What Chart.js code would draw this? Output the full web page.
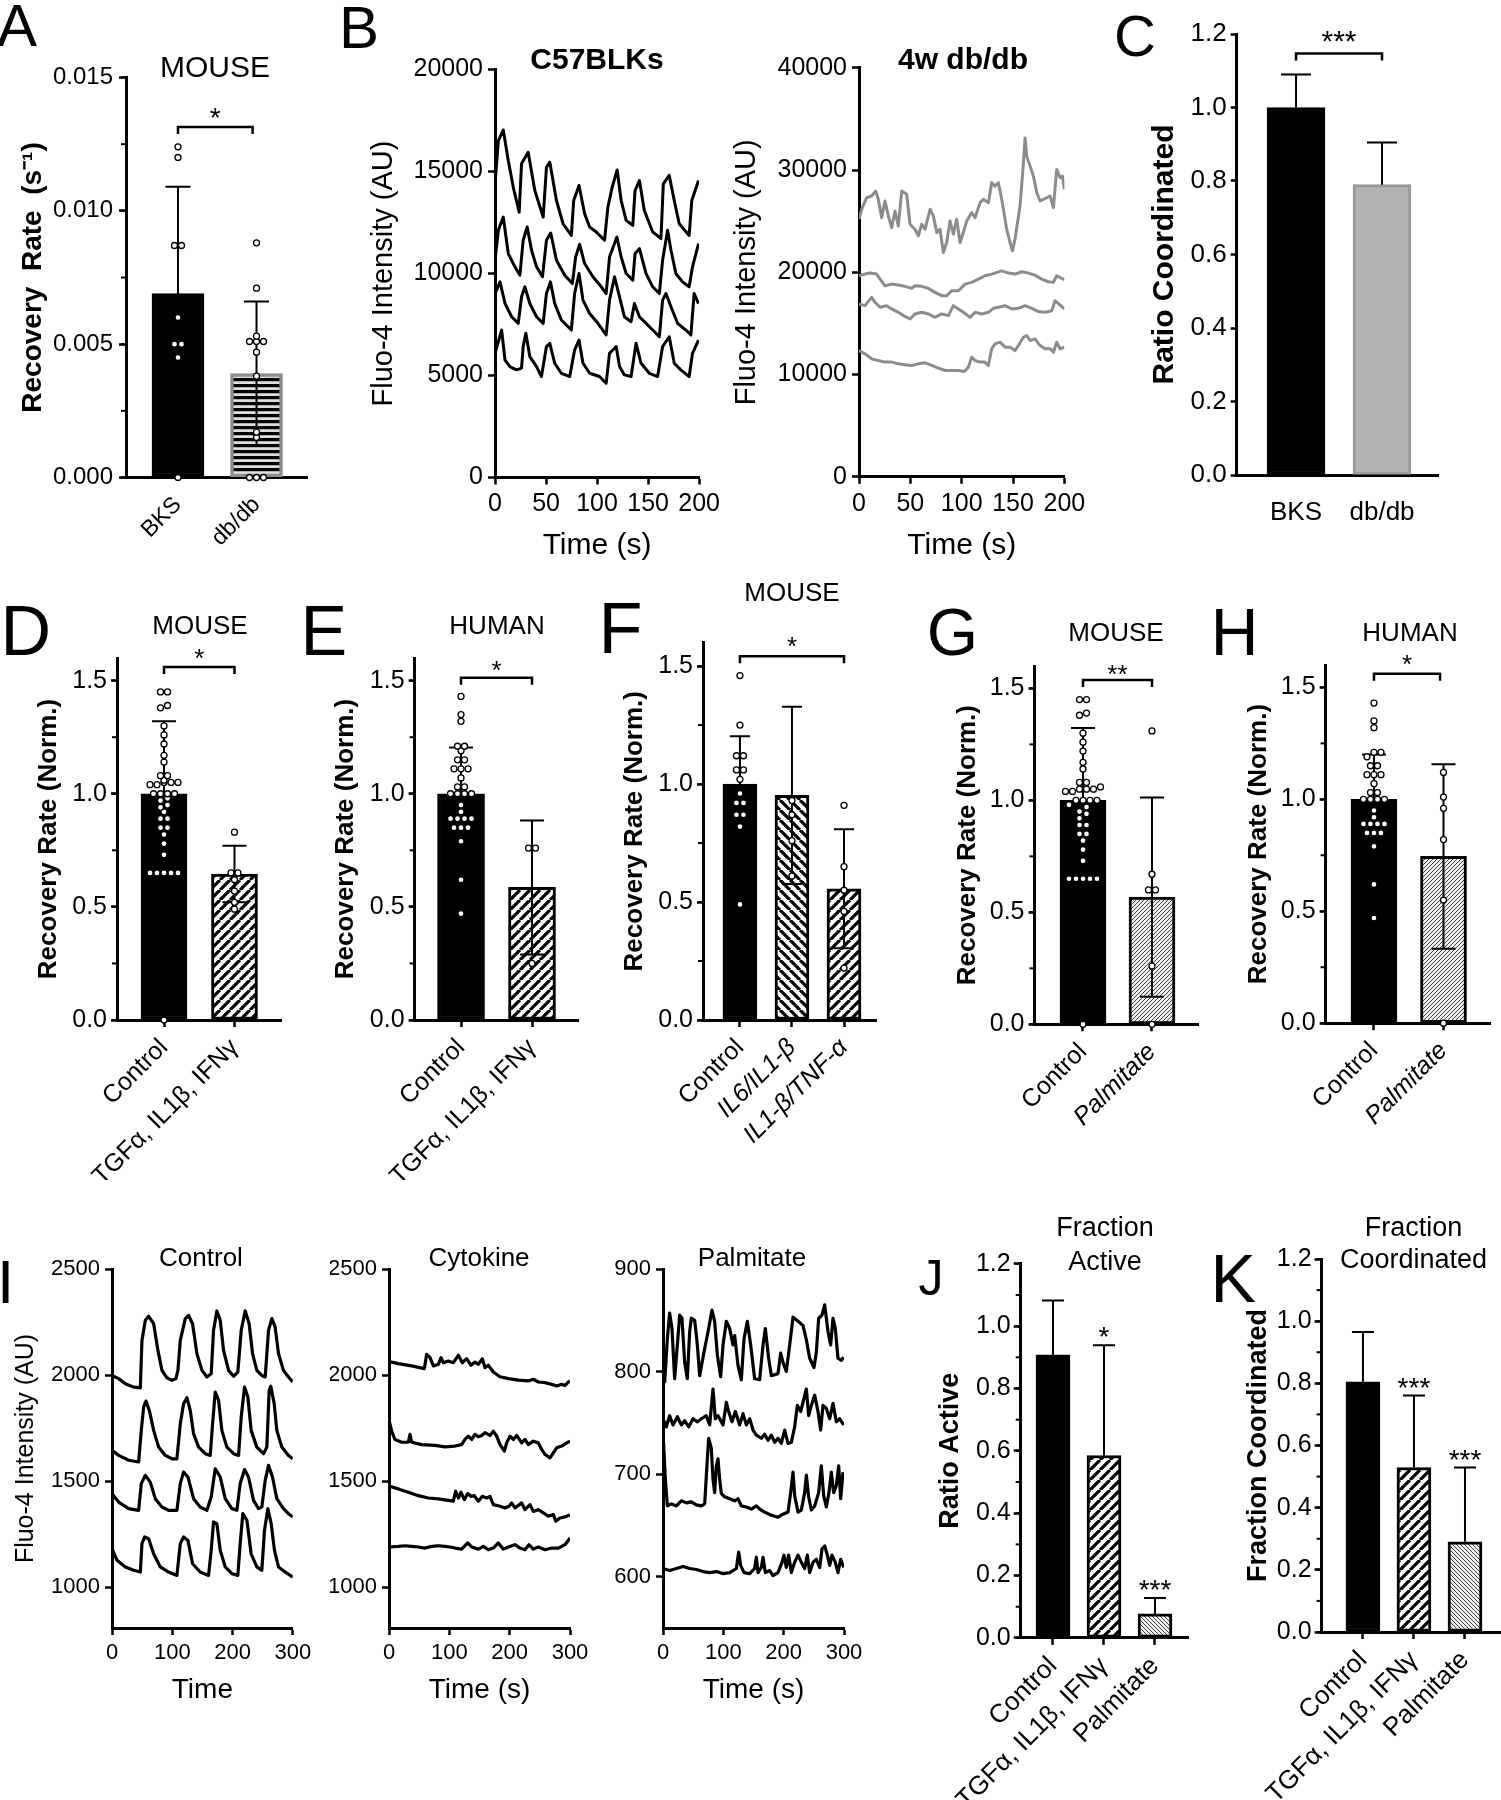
<!DOCTYPE html>
<html>
<head>
<meta charset="utf-8">
<script src="https://cdn.jsdelivr.net/npm/chart.js@4.4.1/dist/chart.umd.min.js"></script>
<style>
body { margin: 0; background: #fff; font-family: "Liberation Sans", Arial, sans-serif; }
#page { position: relative; width: 1501px; height: 1800px; overflow: hidden; background: #fff; }
canvas { position: absolute; }
.lbl { position: absolute; line-height: 1; white-space: nowrap; color: #000; }
</style>
</head>
<body>
<div id="page"></div>
<script>
// ---------------- data ----------------
// A
const aCats = ['BKS', 'db/db'];
const aMean = [0.0069, 0.0039];
const aSd = [0.0040, 0.0027];
const aDotsBks = [0.0124, 0.0120, 0.0087, 0.0087, 0.0060, 0.0050, 0.0050, 0.0045, 0.0];
const aDotsDb = [0.0088, 0.0071, 0.0053, 0.0051, 0.0051, 0.0051, 0.0047, 0.0038, 0.0017, 0.0015, 0, 0, 0];

// B  (time s, intensity AU)
const bWt1 = [[0,14400],[3.3,16500],[8.1,17040],[13,15540],[17.9,14230],[23.7,13010],[26,15380],[32.5,15950],[39,14070],[47.2,12770],[50.4,15210],[53.7,15460],[60.2,13580],[66.7,12440],[74.8,11870],[77.1,13580],[82.3,14320],[87.8,12930],[92.7,12280],[99.2,12040],[107.3,11630],[110.6,13260],[114.8,14230],[119.7,15080],[123.6,13580],[128.5,12610],[135,12360],[137.2,14070],[141.5,14560],[146.3,13090],[154.5,12040],[162.6,11710],[164.9,14400],[170.7,14810],[175.6,13580],[180.5,12440],[190.2,11870],[192.8,13580],[199.4,14560]];
const bWt2 = [[0,10650],[3.3,12120],[8.1,12770],[13,10980],[19.5,10330],[24.4,9920],[27.6,11630],[31.5,12280],[35.8,11140],[40.7,10330],[46.5,9840],[50.4,11630],[54.6,11990],[60.2,10650],[68.3,9920],[75.8,9510],[79,10810],[82.9,11430],[87.8,10490],[95.9,9840],[104.1,9350],[108.9,9020],[112.2,10810],[119.4,11790],[123.6,10810],[128.5,10000],[135,9670],[137.2,10980],[141.5,11220],[148,10000],[154.5,9350],[161,9020],[164.2,10650],[169.1,12120],[172.4,11140],[177.2,10000],[183.7,9590],[190.2,9350],[193.5,10330],[199.4,11470]];
const bWt3 = [[0,9020],[4.9,9590],[9.8,8530],[16.3,7880],[22.8,7560],[26,8860],[29.3,9350],[34.1,8530],[40.7,7880],[47.2,7560],[50.4,9020],[54.3,9590],[58.5,8530],[65,7720],[74.8,7230],[78,9020],[82.3,10000],[86.2,8700],[92.7,8040],[100.8,7560],[108.9,6990],[112.2,8700],[117.1,9840],[122,8860],[126.8,7880],[133.3,7640],[136.6,8530],[141.5,7880],[148,7560],[154.5,7230],[161,6900],[164.2,8700],[167.5,9020],[172.4,8370],[178.9,7560],[187,7230],[191.9,6990],[195.1,9020],[199.4,8530]];
const bWt4 = [[0,6090],[6.5,7230],[9.8,5760],[14.6,5440],[21.1,5280],[26,5360],[27.6,6420],[30.2,7070],[34.1,5930],[40.7,5440],[45.5,4950],[50.4,6420],[53.7,6580],[58.5,5600],[65,5110],[73.2,4950],[78,6250],[82.3,6740],[86.2,5600],[92.7,5110],[102.4,4950],[108.9,4620],[112.2,6090],[118.7,6420],[122,5440],[126.8,5030],[133.3,4950],[138.2,6580],[143.1,5600],[151.2,5110],[159.3,4950],[164.2,6420],[170.7,6900],[175.6,5600],[182.1,5280],[190.2,4950],[193.5,6090],[199.4,6740]];
const bDb1 = [[0,25190],[3.2,26330],[7.5,27300],[12.3,27470],[16.2,27950],[18.8,27140],[22.1,25350],[25.3,26980],[28.6,25520],[31.8,24380],[35.1,26000],[38.3,24540],[41.6,27950],[46.4,27630],[49.7,24700],[54.5,24220],[57.8,23570],[61,24700],[64.3,24220],[69.2,26170],[72.4,25520],[75.7,23890],[78.9,24220],[82.1,21940],[85.4,22920],[88.6,25030],[91.9,23730],[95.1,25190],[98.4,22920],[101.6,23890],[104.9,25030],[109.7,25840],[113,25350],[117.9,26820],[121.1,27140],[126,26820],[129.2,28770],[132.5,28440],[135.7,28770],[139,27140],[143.8,24220],[147.1,22920],[149.4,22100],[151.9,23240],[156.8,26490],[160.1,30720],[161.7,33150],[163.3,31370],[166.6,30390],[169.8,29420],[173.1,27790],[176.3,26980],[179.6,27140],[182.8,27300],[186.1,27470],[189.3,26330],[192.5,30070],[195.8,29250],[198.1,29420],[200,28120]];
const bDb2 = [[0,19670],[5.8,19830],[10.7,19930],[17.2,19830],[20.5,19340],[25.3,18690],[31.8,18850],[38.3,18760],[44.8,18630],[51.3,18430],[54.5,18690],[61,18630],[67.5,18430],[74,18040],[80.5,17720],[85.4,17720],[90.3,18200],[96.8,18200],[103.3,18850],[109.7,19020],[116.2,19340],[122.7,19670],[129.2,19830],[139,20150],[145.5,19930],[152,19830],[158.5,20060],[164.9,19930],[171.4,19730],[177.9,19340],[184.4,19080],[189.3,19020],[192.5,19670],[195.8,19500],[200,19280]];
const bDb3 = [[0,16900],[5.8,16740],[12.3,17550],[15.6,17070],[20.5,16580],[26.9,16740],[31.8,16420],[38.3,16090],[43.2,15770],[49.7,15440],[54.5,15930],[61,16090],[67.5,15930],[74,15600],[80.5,15930],[87,15770],[91.9,16740],[96.8,16420],[101.6,16090],[108.1,15600],[113,16090],[119.5,15930],[126,16090],[130.9,16480],[135.7,16580],[142.2,16740],[148.7,16420],[155.2,16480],[161.7,16740],[168.2,16480],[174.7,16160],[181.2,16090],[187.7,16250],[190.9,17230],[194.8,16900],[200,16420]];
const bDb4 = [[0,12350],[5.8,12030],[12.3,11540],[18.8,11380],[25.3,11220],[31.8,11220],[38.3,11050],[44.8,10960],[51.3,10890],[57.8,11050],[64.3,11150],[70.8,10890],[77.3,10630],[83.8,10400],[90.3,10400],[96.8,10400],[102.6,10310],[106.5,10730],[109.7,11700],[113,11380],[117.9,11220],[122.7,11220],[126,10890],[129.2,12520],[132.5,13000],[137.3,13170],[142.2,12680],[147.1,12680],[152,12350],[155.2,12840],[160.1,13650],[163.3,13820],[166.6,13330],[171.4,13490],[176.3,12840],[181.2,12520],[186.1,12520],[189.3,12190],[192.5,13170],[195.8,12520],[200,12680]];
const bTimeTicks = [0, 50, 100, 150, 200];
const bWtTicks = [0, 5000, 10000, 15000, 20000];
const bDbTicks = [0, 10000, 20000, 30000, 40000];

// C
const cCats = ['BKS', 'db/db'];
const cMean = [1.0, 0.79];
const cSd = [0.09, 0.115];

// D
const dCats = ['Control', 'TGFα, IL1β, IFNγ'];
const dMean = [1.0, 0.645];
const dSd = [0.32, 0.125];
const dDotsCtrl = [1.45,1.45,1.39,1.38,1.30,1.26,1.22,1.17,1.14,1.08,1.08,1.06,1.05,1.05,1.05,1.04,1.04,1.0,1.0,1.0,1.0,0.98,0.97,0.95,0.94,0.92,0.89,0.89,0.85,0.85,0.82,0.78,0.73,0.65,0.65,0.65,0.65,0.65,0.0];
const dDotsTrt = [0.83, 0.65, 0.65, 0.62, 0.57, 0.52, 0.49];

// E
const eCats = ['Control', 'TGFα, IL1β, IFNγ'];
const eMean = [1.0, 0.586];
const eSd = [0.204, 0.296];
const eDotsCtrl = [1.43,1.35,1.32,1.21,1.21,1.19,1.15,1.15,1.11,1.11,1.11,1.07,1.03,1.03,1.0,1.0,1.0,1.0,0.95,0.92,0.89,0.89,0.89,0.89,0.85,0.85,0.85,0.79,0.62,0.47];
const eDotsTrt = [0.76, 0.76, 0.25];

// F
const fCats = ['Control', 'IL6/IL1-β', 'IL1-β/TNF-α'];
const fMean = [1.0, 0.952, 0.556];
const fSd = [0.203, 0.376, 0.252];
const fDotsCtrl = [1.46,1.25,1.12,1.12,1.06,1.06,1.02,0.96,0.92,0.92,0.87,0.87,0.82,0.49];
const fDotsIl6 = [0.93, 0.87, 0.76, 0.61];
const fDotsTnf = [0.91, 0.65, 0.55, 0.46, 0.22];

// G
const gCats = ['Control', 'Palmitate'];
const gMean = [1.0, 0.568];
const gSd = [0.323, 0.445];
const gDotsCtrl = [1.45,1.45,1.39,1.38,1.30,1.26,1.22,1.17,1.14,1.08,1.08,1.06,1.05,1.05,1.05,1.04,1.04,1.0,1.0,1.0,1.0,0.98,0.97,0.95,0.94,0.92,0.89,0.89,0.85,0.85,0.82,0.78,0.73,0.65,0.65,0.65,0.65,0.65,0.0];
const gDotsPalm = [1.31, 0.67, 0.60, 0.60, 0.26, 0.0];

// H
const hCats = ['Control', 'Palmitate'];
const hMean = [1.0, 0.745];
const hSd = [0.20, 0.412];
const hDotsCtrl = [1.43,1.35,1.32,1.21,1.21,1.19,1.15,1.15,1.11,1.11,1.11,1.07,1.03,1.03,1.0,1.0,1.0,1.0,0.95,0.92,0.89,0.89,0.89,0.89,0.85,0.85,0.85,0.79,0.62,0.47];
const hDotsPalm = [1.12, 1.01, 0.96, 0.82, 0.55, 0.0];

// I  (time s, intensity AU)
const iCtl1 = [[0,1998],[11,1983],[22.1,1959],[35.9,1943],[47,1939],[49.7,2163],[55.3,2258],[60.8,2277],[69.1,2242],[76.2,2116],[82.9,2022],[91.2,1987],[99.5,1975],[106.1,1983],[109.4,2022],[113.3,2163],[121.6,2266],[127.1,2281],[133.7,2242],[140.9,2101],[149.2,2022],[157.5,1991],[164.6,2006],[168.5,2211],[174,2302],[179.6,2258],[185.1,2116],[193.4,2022],[201.7,1994],[208.8,2014],[214.4,2211],[221,2302],[227.6,2242],[233.2,2101],[240.3,2022],[248.6,1998],[254.2,1991],[259.7,2211],[265.2,2266],[270.7,2226],[276.3,2101],[284.5,2022],[292.8,1991],[300,1967]];
const iCtl2 = [[0,1645],[11,1621],[27.6,1598],[44.2,1590],[48.6,1739],[52.5,1849],[56.4,1877],[61.9,1833],[69.1,1739],[77.4,1660],[88.4,1621],[99.5,1605],[107.7,1605],[113.3,1770],[118.8,1865],[124.3,1893],[129.8,1833],[135.4,1723],[143.7,1660],[154.7,1629],[163,1621],[166.9,1770],[171.3,1920],[176.8,1881],[182.3,1739],[190.6,1660],[201.7,1629],[210,1621],[214.4,1802],[219.9,1943],[225.4,1896],[230.9,1739],[240.3,1660],[251.4,1629],[256.9,1660],[260.8,1928],[263.5,1947],[269.1,1865],[273.5,1739],[281.8,1660],[292.8,1621],[300,1605]];
const iCtl3 = [[0,1440],[11,1401],[27.6,1370],[44.2,1362],[48.6,1488],[55.3,1527],[63.5,1495],[71.8,1417],[82.9,1377],[93.9,1362],[107.7,1362],[113.3,1488],[118.8,1543],[126,1519],[135.4,1417],[146.4,1377],[157.5,1362],[164.6,1425],[171.3,1558],[179.6,1519],[187.9,1417],[198.9,1370],[207.2,1362],[212.7,1488],[219.9,1554],[226.5,1519],[234.8,1409],[243.1,1370],[248.6,1377],[254.2,1503],[259.7,1574],[266.3,1519],[273.5,1417],[284.5,1370],[292.8,1346],[300,1330]];
const iCtl4 = [[0,1181],[8.3,1126],[22.1,1095],[35.9,1079],[47,1071],[49.7,1205],[54.1,1236],[60.8,1228],[69.1,1157],[80.1,1095],[93.9,1071],[107.7,1055],[113.3,1205],[118.8,1236],[126,1220],[133.7,1110],[146.4,1071],[160.2,1055],[164.6,1173],[168.5,1307],[174,1299],[179.6,1173],[187.9,1095],[198.9,1063],[208.8,1055],[212.7,1205],[217.1,1346],[223.8,1315],[230.9,1157],[240.3,1095],[248.6,1079],[253,1267],[258.6,1370],[264.1,1299],[269.6,1173],[276.3,1095],[287.3,1071],[300,1047]];
const iCyt1 = [[0,2063],[15.5,2054],[37.6,2043],[58.6,2030],[62.4,2098],[68,2082],[73.5,2043],[81.8,2050],[86.2,2082],[90.1,2058],[98.3,2066],[106.6,2058],[114.9,2093],[121.6,2058],[128.7,2077],[135.9,2046],[142.5,2061],[148.1,2050],[154.7,2077],[159.1,2035],[164.6,2046],[172.9,2014],[184,1992],[197.8,1983],[214.4,1976],[230.9,1972],[239.2,1980],[247.5,1967],[258.6,1964],[269.6,1956],[277.9,1948],[286.2,1956],[291.7,1951],[297.2,1967],[300,1972]];
const iCyt2 = [[0,1745],[1.1,1775],[4.4,1735],[9.9,1696],[21,1683],[32,1683],[34.8,1720],[37.6,1683],[54.1,1672],[76.2,1668],[92.8,1661],[109.4,1665],[120.4,1672],[126,1696],[131.5,1712],[137,1696],[142.5,1720],[148.1,1709],[153.6,1715],[159.1,1728],[167.4,1715],[172.9,1735],[178.5,1712],[184,1672],[191.2,1641],[195,1680],[200.6,1712],[206.1,1696],[211.6,1715],[219.9,1680],[225.4,1696],[230.9,1672],[239.2,1688],[247.5,1680],[253,1649],[258.6,1625],[266.9,1609],[272.4,1633],[277.9,1657],[286.2,1665],[294.5,1680],[300,1688]];
const iCyt3 = [[0,1476],[15.5,1463],[32,1447],[48.6,1431],[65.2,1420],[81.8,1416],[98.3,1409],[106.6,1405],[110.5,1452],[114.9,1420],[119.3,1447],[124.9,1412],[130.4,1441],[135.9,1428],[141.4,1431],[148.1,1405],[154.7,1428],[161.9,1420],[167.4,1428],[172.9,1389],[184,1381],[192.3,1373],[198.9,1381],[203.3,1397],[208.8,1373],[219.9,1397],[225.4,1365],[233.7,1389],[239.2,1357],[247.5,1365],[255.8,1350],[264.1,1334],[272.4,1342],[276.3,1310],[283.4,1326],[291.7,1331],[297.2,1337],[300,1342]];
const iCyt4 = [[0,1189],[15.5,1192],[26.5,1195],[37.6,1192],[48.6,1189],[59.7,1184],[70.7,1192],[81.8,1195],[92.8,1192],[101.1,1189],[109.4,1184],[120.4,1179],[130.4,1208],[137,1189],[148.1,1179],[156.4,1192],[164.6,1176],[172.9,1184],[181.2,1208],[189.5,1179],[197.8,1189],[208.8,1200],[217.1,1184],[225.4,1176],[232,1200],[239.2,1179],[247.5,1189],[258.6,1176],[269.6,1184],[280.7,1184],[291.7,1200],[300,1231]];
const iPal1 = [[0,793],[2.8,790],[7.2,832],[11,857],[14.9,842],[19.3,793],[23.8,826],[27.6,855],[31.5,852],[35.9,809],[40.3,793],[44.2,839],[47,852],[52.5,850],[56.9,826],[60.8,796],[68,819],[75.7,842],[81.2,860],[85.6,849],[90.1,816],[95.6,795],[99.5,826],[105,849],[110.5,842],[116,826],[118.8,835],[124.3,806],[129.8,792],[134.3,832],[139.8,849],[145.3,826],[151.9,793],[160.2,792],[165.8,826],[169.6,842],[175.1,813],[179.6,796],[190.6,798],[195,818],[198.9,809],[204.4,800],[210,826],[215.5,853],[223.8,849],[232,845],[237.6,831],[243.1,813],[250.3,804],[254.2,819],[258,852],[263.5,855],[268,865],[273.5,839],[277.9,826],[281.8,852],[285.6,842],[290,813],[295.6,811],[299.5,814]];
const iPal2 = [[0,754],[5.5,746],[11,757],[16.6,748],[23.8,756],[30.4,748],[35.9,752],[42.5,746],[49.7,754],[56.9,751],[63.5,754],[71.8,757],[77.4,748],[82.9,783],[86.7,754],[91.2,757],[99.5,748],[105,770],[108.8,761],[114.4,751],[119.9,761],[127.1,748],[132.6,759],[138.1,748],[143.7,754],[149.2,743],[154.7,738],[163,735],[168.5,739],[174,733],[179.6,738],[185.1,731],[190.6,735],[196.1,730],[201.7,743],[207.2,730],[212.7,731],[218.2,746],[222.7,767],[228.2,761],[233.7,774],[237.6,783],[241.4,757],[245.9,767],[251.4,777],[256.9,761],[261.3,743],[265.2,767],[270.7,764],[276.3,754],[281.8,769],[287.3,751],[292.8,754],[299.5,748]];
const iPal3 = [[0,741],[3.9,695],[7.2,669],[13.8,671],[22.1,669],[30.4,674],[38.7,672],[47,673],[55.3,670],[63.5,669],[69.1,671],[73.5,715],[75.7,735],[80.1,725],[82.9,695],[85.6,682],[88.4,708],[91.2,715],[93.9,695],[96.7,681],[102.2,678],[110.5,676],[118.8,674],[124.3,676],[129.8,669],[138.1,668],[146.4,666],[154.7,669],[160.2,666],[168.5,663],[179.6,660],[190.6,658],[198.9,661],[207.2,663],[211.6,682],[215.5,702],[218.2,679],[223.8,663],[229.3,665],[234.8,682],[237.6,699],[241.4,678],[245.9,665],[251.4,669],[258,682],[262.4,708],[266.3,679],[270.7,668],[275.1,682],[279,702],[282.9,682],[287.3,689],[291.2,708],[294.5,676],[298.4,702]];
const iPal4 = [[0,608],[11,606],[22.1,608],[33.2,610],[44.2,608],[55.3,607],[66.3,605],[77.4,604],[88.4,605],[99.5,603],[110.5,604],[121.6,608],[125.4,624],[128.7,611],[134.3,604],[143.7,603],[151.9,608],[154.7,619],[157.5,604],[163,609],[165.8,619],[169.6,604],[176.8,606],[182.3,601],[190.6,604],[197.2,614],[200.6,621],[204.4,609],[208.3,621],[212.7,604],[218.2,614],[223.8,621],[229.3,614],[234.8,608],[239.2,621],[243.1,604],[248.6,614],[254.2,617],[259.7,609],[263.5,627],[268,630],[272.4,621],[276.3,611],[280.1,621],[285.6,614],[290,604],[294.5,617],[299.5,609]];
const iTimeTicks = [0, 100, 200, 300];
const iAuTicks = [1000, 1500, 2000, 2500];
const iPalTicks = [600, 700, 800, 900];

// J, K
const jkCats = ['Control', 'TGFα, IL1β, IFNγ', 'Palmitate'];
const jMean = [0.908, 0.585, 0.077];
const jSd = [0.174, 0.354, 0.051];
const jStars = ['', '*', '***'];
const kMean = [0.805, 0.529, 0.29];
const kSd = [0.16, 0.232, 0.239];
const kStars = ['', '***', '***'];

const normTicks = [0, 0.5, 1.0, 1.5];
const ratioTicks = [0, 0.2, 0.4, 0.6, 0.8, 1.0, 1.2];
const aTicks = [0, 0.005, 0.010, 0.015];

// ---------------- helpers ----------------
const FONT = '"Liberation Sans", Arial, Helvetica, sans-serif';
Chart.defaults.font.family = FONT;
Chart.defaults.color = '#000';

const page = document.getElementById('page');

function mkCanvas(id, L, T, W, H) {
    const c = document.createElement('canvas');
    c.id = id;
    c.width = W; c.height = H;
    c.style.left = L + 'px'; c.style.top = T + 'px';
    c.style.width = W + 'px'; c.style.height = H + 'px';
    page.appendChild(c);
    return c;
}

function text(t, cx, cy, size, bold) {
    const d = document.createElement('div');
    d.className = 'lbl';
    d.textContent = t;
    d.style.fontSize = size + 'px';
    d.style.fontWeight = bold ? 'bold' : 'normal';
    d.style.left = (cx - 200) + 'px';
    d.style.width = '400px';
    d.style.textAlign = 'center';
    d.style.top = (cy - 0.49 * size) + 'px';
    page.appendChild(d);
}

function letter(t, x, capTop, size) {
    const d = document.createElement('div');
    d.className = 'lbl';
    d.textContent = t;
    d.style.fontSize = size + 'px';
    d.style.left = (x - 0.05 * size) + 'px';
    d.style.top = (capTop - 0.13 * size) + 'px';
    page.appendChild(d);
}

function hatch(kind, g, lw, fg, bg) {
    const c = document.createElement('canvas');
    c.width = g; c.height = g;
    const x = c.getContext('2d');
    x.fillStyle = bg; x.fillRect(0, 0, g, g);
    x.strokeStyle = fg; x.fillStyle = fg; x.lineWidth = lw;
    if (kind === '-') {
        x.fillRect(0, 0, g, lw);
    } else {
        x.beginPath();
        for (let k = -1; k <= 1; k++) {
            if (kind === '/') { x.moveTo(k * g, g); x.lineTo(k * g + g, 0); }
            else { x.moveTo(k * g, 0); x.lineTo(k * g + g, g); }
        }
        x.stroke();
    }
    return x.createPattern(c, 'repeat');
}

// spread overlapping dots sideways like a column scatter
function spread(vals, xi, yPerPx, xPerPx) {
    const tol = 4.5 * yPerPx, gap = 7 * xPerPx;
    const sorted = vals.slice().sort((a, b) => a - b);
    const out = [];
    let grp = [];
    const flush = () => {
        const n = grp.length;
        grp.forEach((v, k) => out.push({ x: xi + (k - (n - 1) / 2) * gap, y: v }));
        grp = [];
    };
    sorted.forEach(v => {
        if (grp.length && v - grp[0] > tol) flush();
        grp.push(v);
    });
    flush();
    return out;
}

function star(ctx, t, x, cy, size) {
    ctx.font = size + 'px ' + FONT;
    ctx.textAlign = 'center';
    ctx.textBaseline = 'alphabetic';
    ctx.fillText(t, x, cy + 0.575 * size);
}

// error bars, minor ticks, significance marks
const extrasById = {};
const extras = {
    id: 'extras',
    afterDatasetDraw(chart, args) {
        const ex = extrasById[chart.canvas.id];
        if (!ex || !ex.sd || args.index !== 0) return;
        const ys = chart.scales.y, ctx = chart.ctx;
        ctx.save();
        ctx.strokeStyle = '#000';
        ctx.lineWidth = 2;
        args.meta.data.forEach((el, i) => {
            const m = ex.mean[i], s = ex.sd[i], x = el.x;
            const ym = ys.getPixelForValue(m);
            const yt = ys.getPixelForValue(m + s);
            const yb = ys.getPixelForValue(Math.max(0, m - s));
            ctx.beginPath();
            ctx.moveTo(x, ym); ctx.lineTo(x, yt);
            ctx.moveTo(x - ex.cap, yt); ctx.lineTo(x + ex.cap, yt);
            if (ex.both) {
                ctx.moveTo(x, ym); ctx.lineTo(x, yb);
                ctx.moveTo(x - ex.cap, yb); ctx.lineTo(x + ex.cap, yb);
            }
            ctx.stroke();
        });
        ctx.restore();
    },
    afterDraw(chart) {
        const ex = extrasById[chart.canvas.id];
        if (!ex) return;
        const xs = chart.scales.x, ys = chart.scales.y, ctx = chart.ctx, area = chart.chartArea;
        ctx.save();
        ctx.strokeStyle = '#000';
        ctx.fillStyle = '#000';
        if (ex.minor) {
            ctx.lineWidth = 2;
            for (let v = ys.min; v <= ys.max + 1e-9; v += ex.minor) {
                const y = ys.getPixelForValue(v);
                ctx.beginPath(); ctx.moveTo(area.left, y); ctx.lineTo(area.left - 5, y); ctx.stroke();
            }
        }
        if (ex.bracket) {
            const b = ex.bracket;
            const x1 = xs.getPixelForValue(b.from), x2 = xs.getPixelForValue(b.to);
            const y = ys.getPixelForValue(b.y);
            ctx.lineWidth = 2.5;
            ctx.beginPath();
            ctx.moveTo(x1, y + 7); ctx.lineTo(x1, y); ctx.lineTo(x2, y); ctx.lineTo(x2, y + 7);
            ctx.stroke();
            star(ctx, b.text, (x1 + x2) / 2, y - b.gap, b.size);
        }
        if (ex.stars) {
            ex.stars.forEach((s, i) => {
                if (!s) return;
                const y = ys.getPixelForValue(ex.mean[i] + ex.sd[i]);
                star(ctx, s, xs.getPixelForValue(i), y - 15, ex.starSize);
            });
        }
        ctx.restore();
    }
};

function barPanel(id, box, area, p) {
    const [L, T, W, H] = box, [x0, y0, x1, y1] = area;
    const cv = mkCanvas(id, L, T, W, H);
    const xPerPx = (p.xmax - p.xmin) / (x1 - x0);
    const yPerPx = p.ymax / (y1 - y0);
    const datasets = [{
        type: 'bar', order: 2,
        data: p.mean.map((m, i) => ({ x: i, y: m })),
        backgroundColor: p.fills, borderColor: p.borders, borderWidth: p.bw,
        borderSkipped: false, barThickness: p.barW
    }];
    (p.dots || []).forEach((vals, i) => datasets.push({
        type: 'scatter', order: 1, clip: false,
        data: spread(vals, i, yPerPx, xPerPx),
        pointRadius: 3, pointBackgroundColor: '#fff', pointBorderColor: '#000', pointBorderWidth: 1.3
    }));
    extrasById[id] = { mean: p.mean, sd: p.sd, cap: p.cap, both: p.both, minor: p.minor,
        bracket: p.bracket, stars: p.stars, starSize: p.starSize };
    new Chart(cv, {
        type: 'bar',
        data: { datasets },
        plugins: [extras],
        options: {
            responsive: false, animation: false, events: [],
            layout: { padding: { left: 0, top: y0 - T, right: L + W - x1, bottom: 0 } },
            plugins: { legend: { display: false }, tooltip: { enabled: false } },
            scales: {
                x: {
                    type: 'linear', min: p.xmin, max: p.xmax, offset: false,
                    afterBuildTicks: s => { s.ticks = p.cats.map((c, i) => ({ value: i })); },
                    afterFit: s => { s.height = T + H - y1; },
                    ticks: {
                        callback: v => p.cats[v], autoSkip: false,
                        maxRotation: p.xRot, minRotation: p.xRot,
                        font: ctx => ({ size: p.xFont, style: (p.italic || []).includes(ctx.index) ? 'italic' : 'normal' }),
                        padding: p.xPad
                    },
                    grid: { drawOnChartArea: false, offset: false, drawTicks: p.xTickLen > 0,
                        tickLength: p.xTickLen || 0, tickWidth: 2.5, tickColor: '#000' },
                    border: { color: '#000', width: 3 }
                },
                y: {
                    type: 'linear', min: 0, max: p.ymax,
                    afterBuildTicks: s => { s.ticks = p.yTicks.map(v => ({ value: v })); },
                    afterFit: s => { s.width = x0 - L; },
                    ticks: { callback: v => v.toFixed(p.dec), font: { size: p.yFont }, padding: p.yPad },
                    grid: { drawOnChartArea: false, tickLength: p.yTickLen, tickWidth: 2.5, tickColor: '#000' },
                    border: { color: '#000', width: 3 },
                    title: { display: true, text: p.yTitle, font: { size: p.yTitleSize, weight: 'bold' },
                        padding: { top: p.yTitlePad, bottom: 0 } }
                }
            }
        }
    });
}

function linePanel(id, box, area, p) {
    const [L, T, W, H] = box, [x0, y0, x1, y1] = area;
    const cv = mkCanvas(id, L, T, W, H);
    new Chart(cv, {
        type: 'line',
        data: {
            datasets: p.traces.map(tr => ({
                data: tr.map(q => ({ x: q[0], y: q[1] })),
                borderColor: p.color, borderWidth: p.lw, pointRadius: 0, tension: 0,
                borderJoinStyle: 'round', fill: false
            }))
        },
        options: {
            responsive: false, animation: false, events: [],
            layout: { padding: { left: 0, top: y0 - T, right: L + W - x1, bottom: 0 } },
            plugins: { legend: { display: false }, tooltip: { enabled: false } },
            scales: {
                x: {
                    type: 'linear', min: 0, max: p.xmax, offset: false,
                    afterBuildTicks: s => { s.ticks = p.xTicks.map(v => ({ value: v })); },
                    afterFit: s => { s.height = T + H - y1; },
                    ticks: { callback: v => String(v), autoSkip: false, maxRotation: 0, minRotation: 0,
                        font: { size: p.xFont }, padding: 5 },
                    grid: { drawOnChartArea: false, offset: false, tickLength: 7, tickWidth: 2.5, tickColor: '#000' },
                    border: { color: '#000', width: 3 },
                    title: { display: true, text: p.xTitle, font: { size: p.xTitleSize },
                        padding: { top: 0, bottom: p.xTitlePad } }
                },
                y: {
                    type: 'linear', min: p.ymin, max: p.ymax,
                    afterBuildTicks: s => { s.ticks = p.yTicks.map(v => ({ value: v })); },
                    afterFit: s => { s.width = x0 - L; },
                    ticks: { callback: v => String(v), font: { size: p.yFont }, padding: p.yPad },
                    grid: { drawOnChartArea: false, tickLength: 7, tickWidth: 2.5, tickColor: '#000' },
                    border: { color: '#000', width: 3 },
                    title: { display: !!p.yTitle, text: p.yTitle || '', font: { size: p.yTitleSize },
                        padding: { top: p.yTitlePad || 0, bottom: 0 } }
                }
            }
        }
    });
}

// ---------------- fills ----------------
const stripeUp = hatch('/', 10, 3.2, '#000', '#fff');
const stripeDown = hatch('\\', 10, 3.2, '#000', '#fff');
const fineUp = hatch('/', 4, 1, '#444', '#eee');
const fineDown = hatch('\\', 4, 1, '#444', '#eee');
const hStripe = hatch('-', 6, 3.2, '#000', '#ddd');

// ---------------- panels ----------------
barPanel('cA', [0, 0, 330, 560], [126, 77.5, 307, 477.5], {
    cats: aCats, mean: aMean, sd: aSd, dots: [aDotsBks, aDotsDb],
    fills: ['#000', hStripe], borders: ['#000', '#8c8c8c'], bw: 3.5, barW: 52, cap: 12.5, both: true,
    xmin: -0.662, xmax: 1.643, ymax: 0.015, yTicks: aTicks, dec: 3, minor: 0.0025,
    yTitle: 'Recovery  Rate  (s⁻¹)', yTitleSize: 28, yTitlePad: 16,
    yFont: 24, yTickLen: 7, yPad: 6, xRot: 45, xFont: 23, xTickLen: 0, xPad: 14,
    bracket: { from: 0, to: 0.95, y: 0.01314, text: '*', gap: 16, size: 28 }
});

linePanel('cB1', [340, 40, 385, 530], [495, 69.6, 700, 477.5], {
    traces: [bWt1, bWt2, bWt3, bWt4], color: '#000', lw: 3,
    xmax: 200, xTicks: bTimeTicks, xFont: 25, xTitle: 'Time (s)', xTitleSize: 30, xTitlePad: 6,
    ymin: 0, ymax: 20000, yTicks: bWtTicks, yFont: 25, yPad: 5,
    yTitle: 'Fluo-4 Intensity (AU)', yTitleSize: 29, yTitlePad: 27
});

linePanel('cB2', [710, 40, 385, 530], [859, 67.9, 1064.4, 476.8], {
    traces: [bDb1, bDb2, bDb3, bDb4], color: '#8c8c8c', lw: 3,
    xmax: 200, xTicks: bTimeTicks, xFont: 25, xTitle: 'Time (s)', xTitleSize: 30, xTitlePad: 6,
    ymin: 0, ymax: 40000, yTicks: bDbTicks, yFont: 25, yPad: 5,
    yTitle: 'Fluo-4 Intensity (AU)', yTitleSize: 29, yTitlePad: 20
});

barPanel('cC', [1130, 0, 330, 540], [1236.7, 34, 1438, 475], {
    cats: cCats, mean: cMean, sd: cSd,
    fills: ['#000', '#b3b3b3'], borders: ['#000', '#999'], bw: 3, barW: 58, cap: 15, both: false,
    xmin: -0.69, xmax: 1.651, ymax: 1.2, yTicks: ratioTicks, dec: 1,
    yTitle: 'Ratio Coordinated', yTitleSize: 30, yTitlePad: 17,
    yFont: 26, yTickLen: 6, yPad: 4, xRot: 0, xFont: 26, xTickLen: 0, xPad: 22,
    bracket: { from: 0, to: 1, y: 1.147, text: '***', gap: 20, size: 30 }
});

barPanel('cD', [0, 600, 300, 580], [117, 658, 281, 1020], {
    cats: dCats, mean: dMean, sd: dSd, dots: [dDotsCtrl, dDotsTrt],
    fills: ['#000', stripeUp], borders: ['#000', '#000'], bw: 3, barW: 46, cap: 12, both: true,
    xmin: -0.667, xmax: 1.66, ymax: 1.6, yTicks: normTicks, dec: 1, minor: 0.25,
    yTitle: 'Recovery Rate (Norm.)', yTitleSize: 26, yTitlePad: 33,
    yFont: 25, yTickLen: 6, yPad: 4, xRot: 45, xFont: 25, xTickLen: 7, xPad: 6,
    bracket: { from: 0, to: 1, y: 1.56, text: '*', gap: 15, size: 26 }
});

barPanel('cE', [300, 600, 300, 580], [414.6, 658, 578.5, 1020], {
    cats: eCats, mean: eMean, sd: eSd, dots: [eDotsCtrl, eDotsTrt],
    fills: ['#000', stripeUp], borders: ['#000', '#000'], bw: 3, barW: 47, cap: 12, both: true,
    xmin: -0.654, xmax: 1.655, ymax: 1.6, yTicks: normTicks, dec: 1, minor: 0.25,
    yTitle: 'Recovery Rate (Norm.)', yTitleSize: 26, yTitlePad: 30,
    yFont: 25, yTickLen: 6, yPad: 4, xRot: 45, xFont: 25, xTickLen: 7, xPad: 6,
    bracket: { from: 0, to: 1, y: 1.513, text: '*', gap: 14, size: 26 }
});

barPanel('cF', [590, 560, 300, 620], [703, 642.5, 876, 1020], {
    cats: fCats, mean: fMean, sd: fSd, dots: [fDotsCtrl, fDotsIl6, fDotsTnf],
    fills: ['#000', stripeDown, stripeUp], borders: ['#000', '#000', '#000'], bw: 3, barW: 34, cap: 10, both: true,
    xmin: -0.71, xmax: 2.615, ymax: 1.6, yTicks: normTicks, dec: 1, minor: 0.25,
    yTitle: 'Recovery Rate (Norm.)', yTitleSize: 26, yTitlePad: 29,
    yFont: 25, yTickLen: 6, yPad: 4, xRot: 45, xFont: 25, xTickLen: 7, xPad: 6, italic: [1, 2],
    bracket: { from: 0, to: 2, y: 1.542, text: '*', gap: 16, size: 26 }
});

barPanel('cG', [900, 600, 320, 580], [1034.5, 666, 1198, 1024.3], {
    cats: gCats, mean: gMean, sd: gSd, dots: [gDotsCtrl, gDotsPalm],
    fills: ['#000', fineUp], borders: ['#000', '#000'], bw: 3, barW: 46, cap: 12, both: true,
    xmin: -0.703, xmax: 1.667, ymax: 1.6, yTicks: normTicks, dec: 1, minor: 0.25,
    yTitle: 'Recovery Rate (Norm.)', yTitleSize: 26, yTitlePad: 52,
    yFont: 25, yTickLen: 6, yPad: 4, xRot: 45, xFont: 25, xTickLen: 7, xPad: 6, italic: [1],
    bracket: { from: 0, to: 1, y: 1.537, text: '**', gap: 12, size: 26 }
});

barPanel('cH', [1200, 600, 301, 580], [1325.6, 665, 1490, 1023.2], {
    cats: hCats, mean: hMean, sd: hSd, dots: [hDotsCtrl, hDotsPalm],
    fills: ['#000', fineUp], borders: ['#000', '#000'], bw: 3, barW: 46, cap: 12, both: true,
    xmin: -0.696, xmax: 1.669, ymax: 1.6, yTicks: normTicks, dec: 1, minor: 0.25,
    yTitle: 'Recovery Rate (Norm.)', yTitleSize: 26, yTitlePad: 43,
    yFont: 25, yTickLen: 6, yPad: 4, xRot: 45, xFont: 25, xTickLen: 7, xPad: 6, italic: [1],
    bracket: { from: 0, to: 0.95, y: 1.561, text: '*', gap: 16, size: 26 }
});

linePanel('cI1', [0, 1240, 320, 480], [112, 1269, 292.8, 1628], {
    traces: [iCtl1, iCtl2, iCtl3, iCtl4], color: '#000', lw: 3.2,
    xmax: 300, xTicks: iTimeTicks, xFont: 22, xTitle: 'Time', xTitleSize: 28, xTitlePad: 13,
    ymin: 807, ymax: 2500, yTicks: iAuTicks, yFont: 22, yPad: 5,
    yTitle: 'Fluo-4 Intensity (AU)', yTitleSize: 25, yTitlePad: 11
});

linePanel('cI2', [330, 1240, 270, 480], [389, 1269, 570, 1628], {
    traces: [iCyt1, iCyt2, iCyt3, iCyt4], color: '#000', lw: 3.2,
    xmax: 300, xTicks: iTimeTicks, xFont: 22, xTitle: 'Time (s)', xTitleSize: 28, xTitlePad: 13,
    ymin: 807, ymax: 2500, yTicks: iAuTicks, yFont: 22, yPad: 5
});

linePanel('cI3', [600, 1240, 275, 480], [663, 1269, 844, 1628], {
    traces: [iPal1, iPal2, iPal3, iPal4], color: '#000', lw: 3.2,
    xmax: 300, xTicks: iTimeTicks, xFont: 22, xTitle: 'Time (s)', xTitleSize: 28, xTitlePad: 13,
    ymin: 550, ymax: 900, yTicks: iPalTicks, yFont: 22, yPad: 5
});

barPanel('cJ', [900, 1200, 300, 600], [1020.7, 1263.8, 1188, 1637.9], {
    cats: jkCats, mean: jMean, sd: jSd,
    fills: ['#000', stripeUp, fineDown], borders: ['#000', '#000', '#000'], bw: 3, barW: 34, cap: 11, both: false,
    xmin: -0.633, xmax: 2.647, ymax: 1.2, yTicks: ratioTicks, dec: 1, minor: 0.1,
    yTitle: 'Ratio Active', yTitleSize: 27, yTitlePad: 34,
    yFont: 25, yTickLen: 7, yPad: 3, xRot: 45, xFont: 26, xTickLen: 7, xPad: 6,
    stars: jStars, starSize: 28
});

barPanel('cK', [1200, 1200, 301, 600], [1321.6, 1259, 1500, 1632], {
    cats: jkCats, mean: kMean, sd: kSd,
    fills: ['#000', stripeUp, fineDown], borders: ['#000', '#000', '#000'], bw: 3, barW: 34, cap: 11, both: false,
    xmin: -0.81, xmax: 2.686, ymax: 1.2, yTicks: ratioTicks, dec: 1, minor: 0.1,
    yTitle: 'Fraction Coordinated', yTitleSize: 27, yTitlePad: 42,
    yFont: 25, yTickLen: 7, yPad: 3, xRot: 45, xFont: 26, xTickLen: 7, xPad: 6,
    stars: kStars, starSize: 28
});

// ---------------- panel titles and letters ----------------
text('MOUSE', 215, 67, 30);
text('C57BLKs', 597, 59, 30, true);
text('4w db/db', 963, 59, 30, true);
text('MOUSE', 200, 625, 26);
text('HUMAN', 497, 625, 26);
text('MOUSE', 792, 591.5, 26);
text('MOUSE', 1116, 632, 26);
text('HUMAN', 1410, 632, 26);
text('Control', 201, 1257, 26);
text('Cytokine', 479, 1257, 26);
text('Palmitate', 752, 1257, 26);
text('Fraction', 1105, 1227, 27);
text('Active', 1105, 1261, 27);
text('Fraction', 1413.6, 1227, 27);
text('Coordinated', 1413.6, 1259, 27);

letter('A', 0, 4, 60);
letter('B', 342, 6, 60);
letter('C', 1117, 15, 58);
letter('D', 4, 605, 70);
letter('E', 304, 605, 70);
letter('F', 602, 601, 72);
letter('G', 930, 608, 66);
letter('H', 1214, 608, 66);
letter('I', 0, 1259, 62);
letter('J', 921, 1259, 50);
letter('K', 1214, 1253, 68);
</script>
</body>
</html>
